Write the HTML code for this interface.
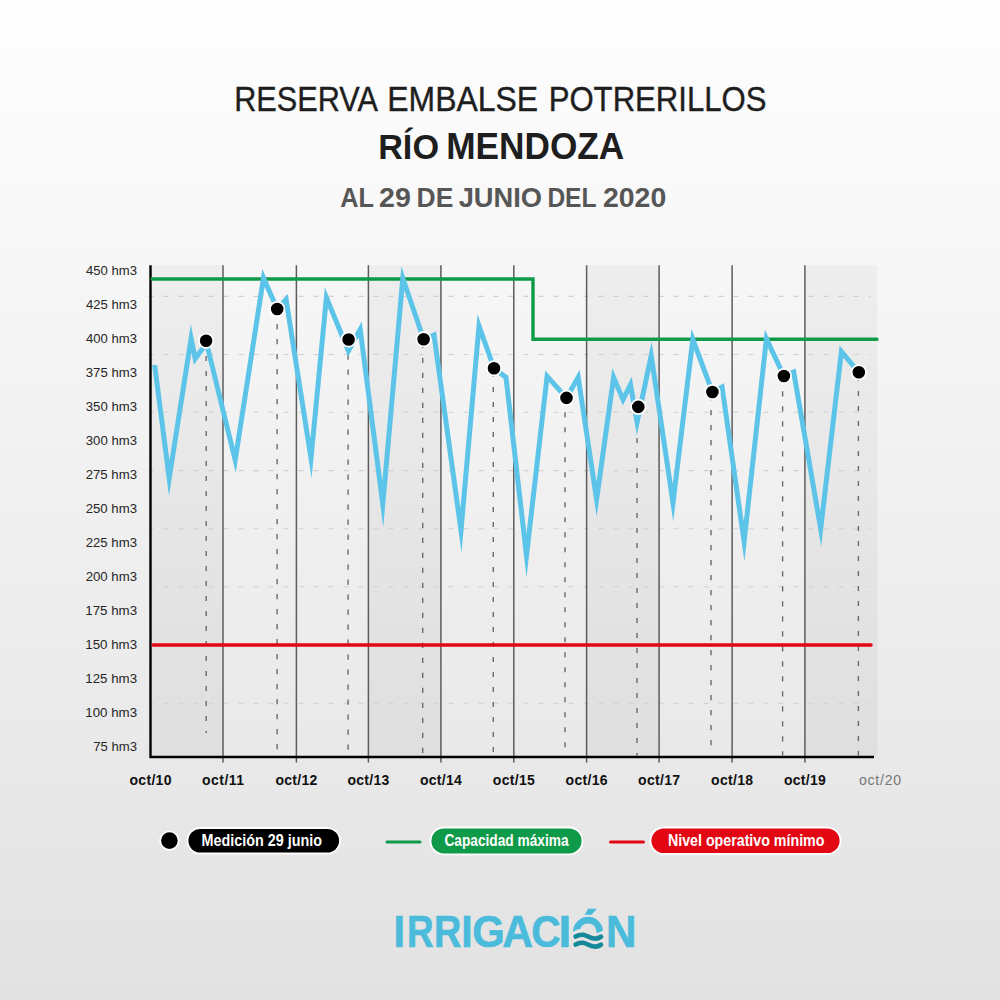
<!DOCTYPE html><html><head><meta charset="utf-8"><style>html,body{margin:0;padding:0;width:1000px;height:1000px;overflow:hidden;background:#eee}svg{display:block;font-family:"Liberation Sans",sans-serif}</style></head><body><svg width="1000" height="1000" viewBox="0 0 1000 1000">
<defs><linearGradient id="bg" x1="0" y1="0" x2="0" y2="1"><stop offset="0" stop-color="#fefefe"/><stop offset="1" stop-color="#e2e2e2"/></linearGradient><linearGradient id="sh" x1="0" y1="0" x2="0" y2="1"><stop offset="0" stop-color="#000" stop-opacity="0.035"/><stop offset="1" stop-color="#000" stop-opacity="0.045"/></linearGradient></defs>
<rect x="0" y="0" width="1000" height="1000" fill="url(#bg)"/>
<rect x="151" y="265.2" width="72.0" height="491.8" fill="url(#sh)"/>
<rect x="368.4" y="265.2" width="72.5" height="491.8" fill="url(#sh)"/>
<rect x="586.6" y="265.2" width="72.5" height="491.8" fill="url(#sh)"/>
<rect x="804.9" y="265.2" width="72.4" height="491.8" fill="url(#sh)"/>
<line x1="148.4" y1="296.4" x2="870.5" y2="296.4" stroke="#d0d0d0" stroke-width="1.1" stroke-dasharray="5.2 9.8"/>
<line x1="148.4" y1="354.5" x2="870.5" y2="354.5" stroke="#d0d0d0" stroke-width="1.1" stroke-dasharray="5.2 9.8"/>
<line x1="148.4" y1="412.3" x2="870.5" y2="412.3" stroke="#d0d0d0" stroke-width="1.1" stroke-dasharray="5.2 9.8"/>
<line x1="148.4" y1="470.6" x2="870.5" y2="470.6" stroke="#d0d0d0" stroke-width="1.1" stroke-dasharray="5.2 9.8"/>
<line x1="148.4" y1="528.8" x2="870.5" y2="528.8" stroke="#d0d0d0" stroke-width="1.1" stroke-dasharray="5.2 9.8"/>
<line x1="148.4" y1="586.8" x2="870.5" y2="586.8" stroke="#d0d0d0" stroke-width="1.1" stroke-dasharray="5.2 9.8"/>
<line x1="148.4" y1="645" x2="870.5" y2="645" stroke="#d0d0d0" stroke-width="1.1" stroke-dasharray="5.2 9.8"/>
<line x1="148.4" y1="703.2" x2="870.5" y2="703.2" stroke="#d0d0d0" stroke-width="1.1" stroke-dasharray="5.2 9.8"/>
<line x1="223" y1="265.2" x2="223" y2="762.5" stroke="#5c5c5c" stroke-width="1.5"/>
<line x1="296.4" y1="265.2" x2="296.4" y2="762.5" stroke="#5c5c5c" stroke-width="1.5"/>
<line x1="368.4" y1="265.2" x2="368.4" y2="762.5" stroke="#5c5c5c" stroke-width="1.5"/>
<line x1="440.9" y1="265.2" x2="440.9" y2="762.5" stroke="#5c5c5c" stroke-width="1.5"/>
<line x1="513.8" y1="265.2" x2="513.8" y2="762.5" stroke="#5c5c5c" stroke-width="1.5"/>
<line x1="586.6" y1="265.2" x2="586.6" y2="762.5" stroke="#5c5c5c" stroke-width="1.5"/>
<line x1="659.1" y1="265.2" x2="659.1" y2="762.5" stroke="#5c5c5c" stroke-width="1.5"/>
<line x1="732.1" y1="265.2" x2="732.1" y2="762.5" stroke="#5c5c5c" stroke-width="1.5"/>
<line x1="804.9" y1="265.2" x2="804.9" y2="762.5" stroke="#5c5c5c" stroke-width="1.5"/>
<line x1="206.2" y1="340.9" x2="206.2" y2="733" stroke="#6a6a6a" stroke-width="1.4" stroke-dasharray="5.1 9.9"/>
<line x1="277.1" y1="309.1" x2="277.1" y2="750" stroke="#6a6a6a" stroke-width="1.4" stroke-dasharray="5.1 9.9"/>
<line x1="348.1" y1="339.6" x2="348.1" y2="750" stroke="#6a6a6a" stroke-width="1.4" stroke-dasharray="5.1 9.9"/>
<line x1="422.7" y1="342.8" x2="422.7" y2="753" stroke="#6a6a6a" stroke-width="1.4" stroke-dasharray="5.1 9.9"/>
<line x1="493.3" y1="372.0" x2="493.3" y2="753" stroke="#6a6a6a" stroke-width="1.4" stroke-dasharray="5.1 9.9"/>
<line x1="565" y1="412.2" x2="565" y2="748" stroke="#6a6a6a" stroke-width="1.4" stroke-dasharray="5.1 9.9"/>
<line x1="637" y1="407.9" x2="637" y2="755.5" stroke="#6a6a6a" stroke-width="1.4" stroke-dasharray="5.1 9.9"/>
<line x1="711" y1="395.1" x2="711" y2="746" stroke="#6a6a6a" stroke-width="1.4" stroke-dasharray="5.1 9.9"/>
<line x1="782.6" y1="376.3" x2="782.6" y2="755.5" stroke="#6a6a6a" stroke-width="1.4" stroke-dasharray="5.1 9.9"/>
<line x1="858.4" y1="376.0" x2="858.4" y2="755.5" stroke="#6a6a6a" stroke-width="1.4" stroke-dasharray="5.1 9.9"/>
<path d="M150.5,265.2 L150.5,757 L874,757" fill="none" stroke="#000" stroke-width="2.4"/>
<line x1="153" y1="645" x2="871" y2="645" stroke="#e30613" stroke-width="3.5" stroke-linecap="round"/>
<path d="M152,279 L533,279 L533,339.2 L877,339.2" fill="none" stroke="#0e9a48" stroke-width="3.4" stroke-linejoin="miter" stroke-linecap="round"/>
<clipPath id="bc"><polygon points="165,0 1000,0 1000,1000 0,1000 0,364.9 165,364.9"/></clipPath>
<path clip-path="url(#bc)" d="M154.1,360.8 L169.2,478.3 L191.1,338.5 L195.2,358.7 L206.5,343.0 L235.2,460.0 L263.5,277.9 L277.2,309.0 L286.1,299.5 L311.0,458.4 L326.4,297.5 L348.4,351.0 L360.2,329.5 L382.8,504.1 L402.8,278.2 L423.6,339.2 L434.0,335.0 L461.0,530.5 L479.0,326.0 L494.0,368.3 L506.0,377.4 L526.5,555.7 L547.1,376.2 L566.5,397.9 L578.2,377.2 L596.6,499.4 L613.6,377.3 L623.0,399.6 L630.5,384.7 L637.1,422.1 L651.2,355.7 L673.0,502.9 L692.8,339.3 L712.4,392.0 L722.1,387.0 L744.1,541.6 L766.4,338.7 L783.9,376.0 L793.7,372.0 L820.7,528.9 L841.4,351.6 L858.8,372.3" fill="none" stroke="#5bc4e8" stroke-width="5.0" stroke-linejoin="miter" stroke-miterlimit="20" stroke-linecap="butt"/>
<circle cx="206.1" cy="340.8" r="7.2" fill="#000" stroke="#fff" stroke-width="1.8"/>
<circle cx="277.2" cy="309" r="7.2" fill="#000" stroke="#fff" stroke-width="1.8"/>
<circle cx="348.6" cy="339.5" r="7.2" fill="#000" stroke="#fff" stroke-width="1.8"/>
<circle cx="423.6" cy="339.2" r="7.2" fill="#000" stroke="#fff" stroke-width="1.8"/>
<circle cx="494" cy="368.3" r="7.2" fill="#000" stroke="#fff" stroke-width="1.8"/>
<circle cx="566.5" cy="397.9" r="7.2" fill="#000" stroke="#fff" stroke-width="1.8"/>
<circle cx="638.3" cy="406.9" r="7.2" fill="#000" stroke="#fff" stroke-width="1.8"/>
<circle cx="712.4" cy="392" r="7.2" fill="#000" stroke="#fff" stroke-width="1.8"/>
<circle cx="783.9" cy="376" r="7.2" fill="#000" stroke="#fff" stroke-width="1.8"/>
<circle cx="858.8" cy="372.3" r="7.2" fill="#000" stroke="#fff" stroke-width="1.8"/>
<text transform="translate(86.01,274.5) scale(0.9719,1)" font-family="Liberation Sans" font-size="13.5" font-weight="normal" fill="#262626">450 hm3</text>
<text transform="translate(86.01,308.5) scale(0.9719,1)" font-family="Liberation Sans" font-size="13.5" font-weight="normal" fill="#262626">425 hm3</text>
<text transform="translate(86.01,342.5) scale(0.9719,1)" font-family="Liberation Sans" font-size="13.5" font-weight="normal" fill="#262626">400 hm3</text>
<text transform="translate(85.80,376.5) scale(0.9760,1)" font-family="Liberation Sans" font-size="13.5" font-weight="normal" fill="#262626">375 hm3</text>
<text transform="translate(85.80,410.5) scale(0.9760,1)" font-family="Liberation Sans" font-size="13.5" font-weight="normal" fill="#262626">350 hm3</text>
<text transform="translate(85.80,444.5) scale(0.9760,1)" font-family="Liberation Sans" font-size="13.5" font-weight="normal" fill="#262626">300 hm3</text>
<text transform="translate(85.64,478.5) scale(0.9791,1)" font-family="Liberation Sans" font-size="13.5" font-weight="normal" fill="#262626">275 hm3</text>
<text transform="translate(85.64,512.5) scale(0.9791,1)" font-family="Liberation Sans" font-size="13.5" font-weight="normal" fill="#262626">250 hm3</text>
<text transform="translate(85.64,546.5) scale(0.9791,1)" font-family="Liberation Sans" font-size="13.5" font-weight="normal" fill="#262626">225 hm3</text>
<text transform="translate(85.64,580.5) scale(0.9791,1)" font-family="Liberation Sans" font-size="13.5" font-weight="normal" fill="#262626">200 hm3</text>
<text transform="translate(85.29,614.5) scale(0.9858,1)" font-family="Liberation Sans" font-size="13.5" font-weight="normal" fill="#262626">175 hm3</text>
<text transform="translate(85.29,648.5) scale(0.9858,1)" font-family="Liberation Sans" font-size="13.5" font-weight="normal" fill="#262626">150 hm3</text>
<text transform="translate(85.29,682.5) scale(0.9858,1)" font-family="Liberation Sans" font-size="13.5" font-weight="normal" fill="#262626">125 hm3</text>
<text transform="translate(85.29,716.5) scale(0.9858,1)" font-family="Liberation Sans" font-size="13.5" font-weight="normal" fill="#262626">100 hm3</text>
<text transform="translate(93.32,750.5) scale(0.9717,1)" font-family="Liberation Sans" font-size="13.5" font-weight="normal" fill="#262626">75 hm3</text>
<text x="150.5" y="784.8" text-anchor="middle" font-family="Liberation Sans" font-size="14" font-weight="bold" fill="#111" textLength="42" lengthAdjust="spacing">oct/10</text>
<text x="223" y="784.8" text-anchor="middle" font-family="Liberation Sans" font-size="14" font-weight="bold" fill="#111" textLength="42" lengthAdjust="spacing">oct/11</text>
<text x="296.4" y="784.8" text-anchor="middle" font-family="Liberation Sans" font-size="14" font-weight="bold" fill="#111" textLength="42" lengthAdjust="spacing">oct/12</text>
<text x="368.4" y="784.8" text-anchor="middle" font-family="Liberation Sans" font-size="14" font-weight="bold" fill="#111" textLength="42" lengthAdjust="spacing">oct/13</text>
<text x="440.9" y="784.8" text-anchor="middle" font-family="Liberation Sans" font-size="14" font-weight="bold" fill="#111" textLength="42" lengthAdjust="spacing">oct/14</text>
<text x="513.8" y="784.8" text-anchor="middle" font-family="Liberation Sans" font-size="14" font-weight="bold" fill="#111" textLength="42" lengthAdjust="spacing">oct/15</text>
<text x="586.6" y="784.8" text-anchor="middle" font-family="Liberation Sans" font-size="14" font-weight="bold" fill="#111" textLength="42" lengthAdjust="spacing">oct/16</text>
<text x="659.1" y="784.8" text-anchor="middle" font-family="Liberation Sans" font-size="14" font-weight="bold" fill="#111" textLength="42" lengthAdjust="spacing">oct/17</text>
<text x="732.1" y="784.8" text-anchor="middle" font-family="Liberation Sans" font-size="14" font-weight="bold" fill="#111" textLength="42" lengthAdjust="spacing">oct/18</text>
<text x="804.9" y="784.8" text-anchor="middle" font-family="Liberation Sans" font-size="14" font-weight="bold" fill="#111" textLength="42" lengthAdjust="spacing">oct/19</text>
<text x="880" y="784.8" text-anchor="middle" font-family="Liberation Sans" font-size="14" font-weight="normal" fill="#777" textLength="42" lengthAdjust="spacing">oct/20</text>
<text transform="translate(234.19,111) scale(0.8517,1)" font-family="Liberation Sans" font-size="36" font-weight="normal" fill="#1e1e1e" stroke="#1e1e1e" stroke-width="0.4">RESERVA</text>
<text transform="translate(387.28,111) scale(0.8877,1)" font-family="Liberation Sans" font-size="36" font-weight="normal" fill="#1e1e1e" stroke="#1e1e1e" stroke-width="0.4">EMBALSE</text>
<text transform="translate(548.65,111) scale(0.8649,1)" font-family="Liberation Sans" font-size="36" font-weight="normal" fill="#1e1e1e" stroke="#1e1e1e" stroke-width="0.4">POTRERILLOS</text>
<text transform="translate(378.14,158.8) scale(0.9514,1)" font-family="Liberation Sans" font-size="36" font-weight="bold" fill="#1e1e1e">RÍO</text>
<text transform="translate(446.17,158.8) scale(0.9793,1)" font-family="Liberation Sans" font-size="36" font-weight="bold" fill="#1e1e1e">MENDOZA</text>
<text transform="translate(340.34,206.6) scale(0.9375,1)" font-family="Liberation Sans" font-size="27" font-weight="bold" fill="#565656">AL</text>
<text transform="translate(379.03,206.6) scale(1.0592,1)" font-family="Liberation Sans" font-size="27" font-weight="bold" fill="#565656">29</text>
<text transform="translate(416.55,206.6) scale(0.9807,1)" font-family="Liberation Sans" font-size="27" font-weight="bold" fill="#565656">DE</text>
<text transform="translate(458.66,206.6) scale(1.0106,1)" font-family="Liberation Sans" font-size="27" font-weight="bold" fill="#565656">JUNIO</text>
<text transform="translate(547.38,206.6) scale(0.9104,1)" font-family="Liberation Sans" font-size="27" font-weight="bold" fill="#565656">DEL</text>
<text transform="translate(602.93,206.6) scale(1.0543,1)" font-family="Liberation Sans" font-size="27" font-weight="bold" fill="#565656">2020</text>
<circle cx="169.4" cy="840.6" r="9.2" fill="#000" stroke="#fff" stroke-width="1.8"/>
<rect x="187.5" y="828" width="152.5" height="25.5" rx="12.75" fill="#000" stroke="#fff" stroke-width="1.8"/>
<text transform="translate(201.45,846) scale(0.8993,1)" font-family="Liberation Sans" font-size="16" font-weight="bold" fill="#fff">Medición 29 junio</text>
<line x1="387" y1="842" x2="420" y2="842" stroke="#0e9a48" stroke-width="3" stroke-linecap="round"/>
<rect x="430.5" y="827.5" width="152" height="26.8" rx="13.4" fill="#0e9a48" stroke="#fff" stroke-width="1.8"/>
<text transform="translate(444.42,846) scale(0.8574,1)" font-family="Liberation Sans" font-size="16" font-weight="bold" fill="#fff">Capacidad máxima</text>
<line x1="610.5" y1="842" x2="643.5" y2="842" stroke="#e30613" stroke-width="3" stroke-linecap="round"/>
<rect x="650.5" y="827.5" width="190" height="26.5" rx="13.25" fill="#e30613" stroke="#fff" stroke-width="1.8"/>
<text transform="translate(667.96,846) scale(0.8901,1)" font-family="Liberation Sans" font-size="16" font-weight="bold" fill="#fff">Nivel operativo mínimo</text>
<text transform="translate(393.51,947) scale(0.936,1)" font-family="Liberation Sans" font-size="44.5" font-weight="bold" fill="#4bbbdc" stroke="#4bbbdc" stroke-width="0.6">I</text>
<text transform="translate(407.03,947) scale(0.829,1)" font-family="Liberation Sans" font-size="44.5" font-weight="bold" fill="#4bbbdc" stroke="#4bbbdc" stroke-width="0.6">R</text>
<text transform="translate(433.96,947) scale(0.851,1)" font-family="Liberation Sans" font-size="44.5" font-weight="bold" fill="#4bbbdc" stroke="#4bbbdc" stroke-width="0.6">R</text>
<text transform="translate(461.35,947) scale(0.921,1)" font-family="Liberation Sans" font-size="44.5" font-weight="bold" fill="#4bbbdc" stroke="#4bbbdc" stroke-width="0.6">I</text>
<text transform="translate(472.30,947) scale(0.941,1)" font-family="Liberation Sans" font-size="44.5" font-weight="bold" fill="#4bbbdc" stroke="#4bbbdc" stroke-width="0.6">G</text>
<text transform="translate(502.23,947) scale(0.958,1)" font-family="Liberation Sans" font-size="44.5" font-weight="bold" fill="#4bbbdc" stroke="#4bbbdc" stroke-width="0.6">A</text>
<text transform="translate(531.33,947) scale(0.917,1)" font-family="Liberation Sans" font-size="44.5" font-weight="bold" fill="#4bbbdc" stroke="#4bbbdc" stroke-width="0.6">C</text>
<text transform="translate(558.43,947) scale(1.030,1)" font-family="Liberation Sans" font-size="44.5" font-weight="bold" fill="#4bbbdc" stroke="#4bbbdc" stroke-width="0.6">I</text>
<text transform="translate(606.07,947) scale(0.948,1)" font-family="Liberation Sans" font-size="44.5" font-weight="bold" fill="#4bbbdc" stroke="#4bbbdc" stroke-width="0.6">N</text>
<defs><mask id="cut" maskUnits="userSpaceOnUse" x="540" y="880" width="100" height="90"><rect x="560" y="890" width="60" height="70" fill="#fff"/><path d="M560,931.9 L573.5,931.7 C577,929.3 580,928.8 583,929.3 C587,930 590,932.5 594,933 C598,933.5 601,932 603.2,930.1 L620,929 L620,960 L560,960 Z" fill="#000"/></mask></defs>
<circle cx="588.1" cy="931.8" r="11.7" fill="none" stroke="#4bbbdc" stroke-width="6.6" mask="url(#cut)"/>
<path d="M584.6,914.8 L588.2,908.8 L597,908.8 L591.5,914.8 Z" fill="#4bbbdc"/>
<path d="M575.6,936.6 C578,935.2 580,934.4 583,934.8 C587,935.5 590,938 594,938.5 C597.5,939 599.5,937.8 601,936.6" fill="none" stroke="#15889a" stroke-width="4.6" stroke-linecap="round"/>
<path transform="translate(0,8)" d="M575.6,936.6 C578,935.2 580,934.4 583,934.8 C587,935.5 590,938 594,938.5 C597.5,939 599.5,937.8 601,936.6" fill="none" stroke="#15889a" stroke-width="4.6" stroke-linecap="round"/>
</svg></body></html>
